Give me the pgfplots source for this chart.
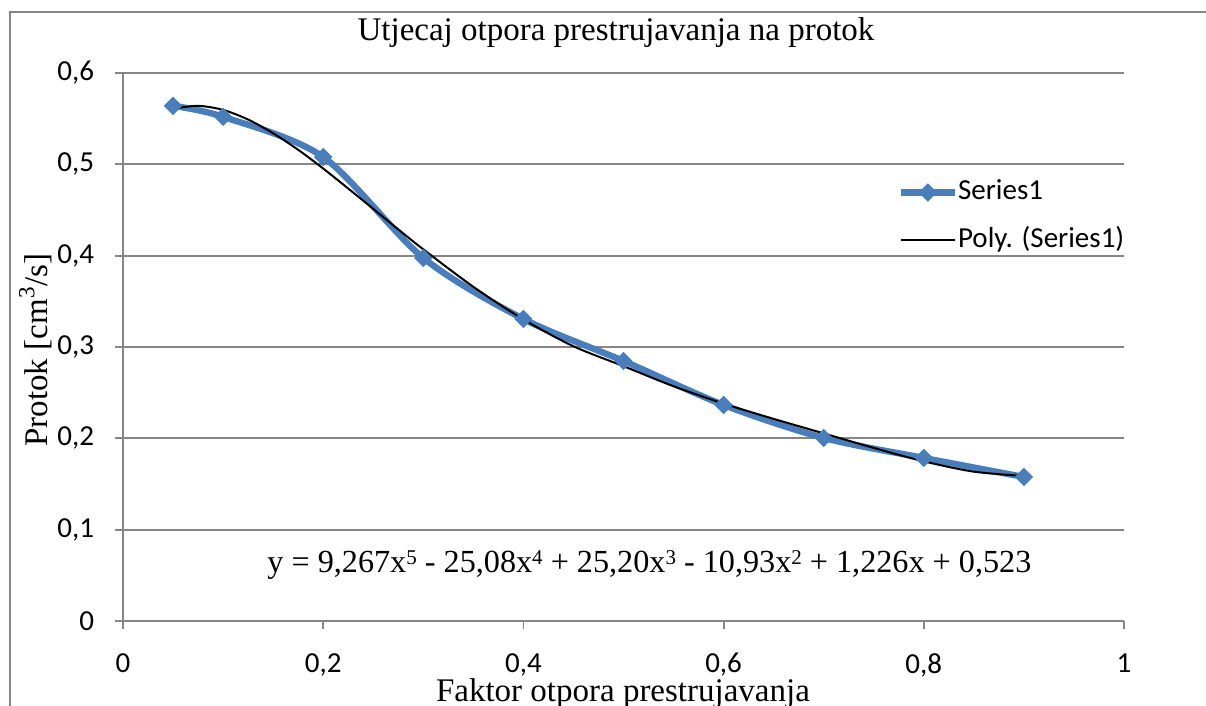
\documentclass[border=0pt]{standalone}
\usepackage{fontspec}
\setmainfont{Liberation Serif}
\newfontfamily\calibri{Carlito}
\usepackage{pgfplots}
\pgfplotsset{compat=1.18}
\definecolor{ser}{RGB}{74,126,187}
\definecolor{gridc}{RGB}{134,134,134}
\newcommand{\sups}[1]{\raisebox{0.55ex}{\fontsize{10.5}{12}\selectfont #1}}
\begin{document}
\begin{tikzpicture}
\useasboundingbox (0,0) rectangle (603pt,353pt);
\fill[white] (0,0) rectangle (603pt,353pt);
\draw[gridc, line width=1pt] (5pt,-2pt) -- (5pt,347pt) -- (606pt,347pt);
\begin{axis}[
  at={(61.5pt,42.5pt)}, anchor=south west,
  scale only axis, width=500.5pt, height=274pt,
  xmin=0, xmax=1, ymin=0, ymax=0.6,
  clip=false,
  xtick={0,0.2,0.4,0.6,0.8,1},
  ytick={0,0.1,0.2,0.3,0.4,0.5,0.6},
  axis x line*=bottom, axis y line*=left,
  axis line style={gridc, line width=0.9pt, -},
  tick style={gridc, line width=0.9pt},
  tick align=outside, major tick length=4pt,
  ymajorgrids, grid style={gridc, line width=0.9pt},
  /pgf/number format/use comma,
  /pgf/number format/assume math mode=true,
  ticklabel style={font=\calibri\fontsize{14.5}{16}\selectfont, text=black},
  xticklabel style={inner sep=0pt, yshift=-12pt},
  yticklabel style={inner sep=0pt, xshift=-10.3pt},
  title={Utjecaj otpora prestrujavanja na protok},
  title style={at={(axis description cs:0.4925,1.0365)}, anchor=base, font=\fontsize{16.5}{19}\selectfont, inner sep=0pt},
  xlabel={Faktor otpora prestrujavanja},
  xlabel style={at={(axis description cs:0.4995,-0.1475)}, anchor=base, font=\fontsize{16.5}{19}\selectfont, inner sep=0pt},
  ylabel={Protok [cm\textsuperscript{3}/s]},
  ylabel style={at={(axis description cs:-0.0759,0.4945)}, anchor=base, font=\fontsize{16.5}{19}\selectfont, inner sep=0pt},
  legend cell align=left,
  legend style={at={(axis cs:0.7735,0.4429)}, anchor=west, draw=none, fill=none,
    font=\calibri\fontsize{14.5}{16}\selectfont, inner sep=0pt, row sep=11pt,
    nodes={inner xsep=0pt, inner ysep=0pt, text height=10pt, text depth=3pt}},
  legend image code/.code={\draw[mark repeat=2,mark phase=2,#1] plot coordinates {(0pt,0pt) (13.5pt,0pt) (27pt,0pt)};},
]
\addplot[ser, line width=3.2pt, smooth, tension=0.5, mark=square*, mark size=3pt,
  mark options={solid, rotate=45, line width=0.5pt, fill=ser, draw=ser}]
  coordinates {
  (0.05,0.564) (0.1,0.552) (0.2,0.508) (0.3,0.3975) (0.4,0.3307)
  (0.5,0.2847) (0.6,0.2365) (0.7,0.2004) (0.8,0.1785) (0.9,0.1577)
};
\addlegendentry{Series1}
\addplot[black, line width=1pt, smooth, no marks]
  coordinates {
  (0.05,0.5610) (0.075,0.5640) (0.1,0.5596) (0.125,0.5490) (0.15,0.5340)
  (0.175,0.5159) (0.2,0.4954) (0.225,0.4735) (0.25,0.4512) (0.275,0.4288)
  (0.3,0.4069) (0.35,0.3659) (0.4,0.3302) (0.45,0.3008) (0.5,0.2790)
  (0.55,0.2570) (0.6,0.2380) (0.65,0.2213) (0.7,0.2054) (0.75,0.1895)
  (0.8,0.1748) (0.85,0.1635) (0.9,0.1588)
};
\addlegendentry{Poly. (Series1)}
\node[anchor=base west, inner sep=0pt, font=\fontsize{16.1}{19}\selectfont] at (axis cs:0.1439,0.0526)
  {y = 9,267x\sups{5} - 25,08x\sups{4} + 25,20x\sups{3} - 10,93x\sups{2} + 1,226x + 0,523};
\end{axis}
\end{tikzpicture}
\end{document}
